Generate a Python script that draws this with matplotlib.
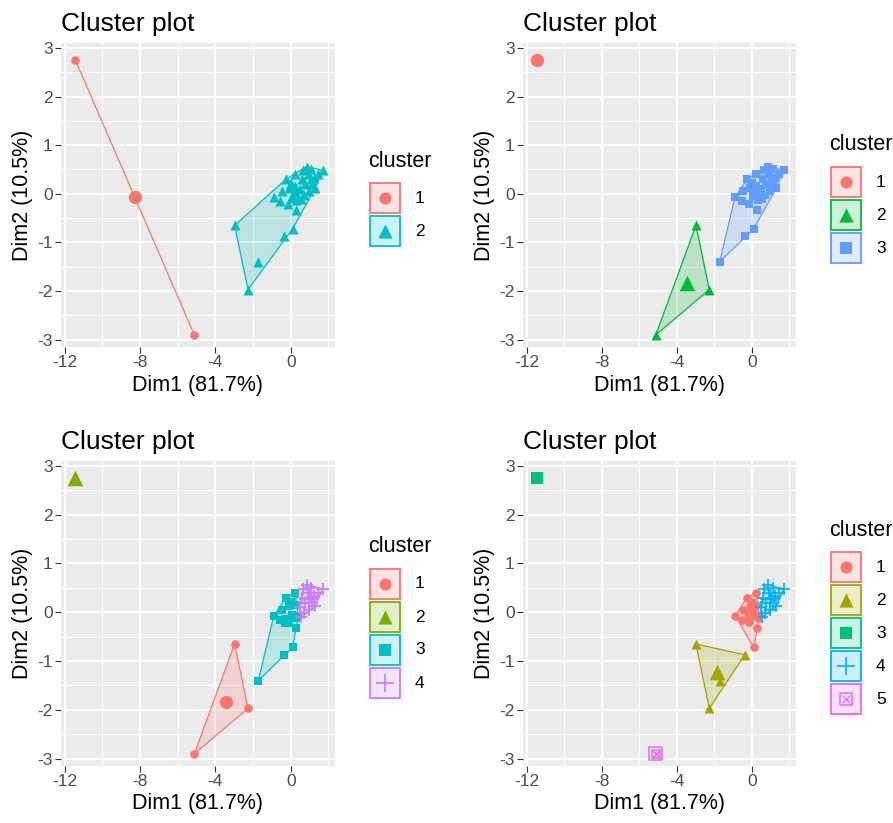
import numpy as np
import matplotlib
matplotlib.use("Agg")
import matplotlib.pyplot as plt
from matplotlib.patches import Polygon, Rectangle

plt.rcParams["font.family"] = ["Liberation Sans", "DejaVu Sans"]
plt.rcParams["axes.unicode_minus"] = False

dim1 = [-11.45, -5.12, -2.98, -2.27, -1.72, -0.38, 0.10, 0.27, -0.15, -0.90,
        -0.45, -0.25, 0.23, 0.05, 0.30, -0.10, 0.20, 0.40, 0.00, -0.55,
        0.85, 1.70, 1.25, 1.30, 0.70, 0.55, 0.60, 0.95, 1.05, 1.45,
        0.75, 1.10, 0.90, 0.50, 1.15, 0.65]
dim2 = [2.76, -2.90, -0.65, -1.97, -1.40, -0.87, -0.72, -0.33, -0.20, -0.07,
        0.05, 0.30, 0.40, -0.05, -0.12, 0.12, 0.15, -0.08, 0.22, -0.15,
        0.56, 0.48, 0.33, 0.12, -0.02, -0.10, 0.30, 0.05, 0.30, 0.40,
        0.20, 0.50, 0.40, 0.10, 0.20, 0.48]

# cluster assignments for k = 2, 3, 4, 5
k2 = [1, 1, 2, 2, 2, 2, 2, 2, 2, 2, 2, 2, 2, 2, 2, 2, 2, 2, 2, 2,
      2, 2, 2, 2, 2, 2, 2, 2, 2, 2, 2, 2, 2, 2, 2, 2]
k3 = [1, 2, 2, 2, 3, 3, 3, 3, 3, 3, 3, 3, 3, 3, 3, 3, 3, 3, 3, 3,
      3, 3, 3, 3, 3, 3, 3, 3, 3, 3, 3, 3, 3, 3, 3, 3]
k4 = [2, 1, 1, 1, 3, 3, 3, 3, 3, 3, 3, 3, 3, 3, 3, 3, 3, 3, 3, 3,
      4, 4, 4, 4, 4, 4, 4, 4, 4, 4, 4, 4, 4, 4, 4, 4]
k5 = [3, 5, 2, 2, 2, 2, 1, 1, 1, 1, 1, 1, 1, 1, 1, 1, 1, 1, 1, 1,
      4, 4, 4, 4, 4, 4, 4, 4, 4, 4, 4, 4, 4, 4, 4, 4]

palettes = {
    2: ["#F8766D", "#00BFC4"],
    3: ["#F8766D", "#00BA38", "#619CFF"],
    4: ["#F8766D", "#7CAE00", "#00BFC4", "#C77CFF"],
    5: ["#F8766D", "#A3A500", "#00BF7D", "#00B0F6", "#E76BF3"],
}
shapes = ["o", "^", "s", "+", "boxx"]

W, H = 893, 823


def convex_hull(pts):
    pts = sorted(set(pts))
    if len(pts) < 3:
        return pts

    def cross(o, a, b):
        return (a[0] - o[0]) * (b[1] - o[1]) - (a[1] - o[1]) * (b[0] - o[0])

    lower, upper = [], []
    for p in pts:
        while len(lower) >= 2 and cross(lower[-2], lower[-1], p) <= 0:
            lower.pop()
        lower.append(p)
    for p in reversed(pts):
        while len(upper) >= 2 and cross(upper[-2], upper[-1], p) <= 0:
            upper.pop()
        upper.append(p)
    return lower[:-1] + upper[:-1]


def draw_marker(ax, x, y, shape, color, f=1.0, zorder=4):
    if shape == "o":
        ax.scatter(x, y, s=38 * f, marker="o", color=color, lw=0, zorder=zorder)
    elif shape == "^":
        ax.scatter(x, y, s=52 * f, marker="^", color=color, lw=0, zorder=zorder)
    elif shape == "s":
        ax.scatter(x, y, s=34 * f, marker="s", color=color, lw=0, zorder=zorder)
    elif shape == "+":
        ax.scatter(x, y, s=85 * f, marker="+", color=color, lw=1.2, zorder=zorder)
    else:
        ax.scatter(x, y, s=36 * f, marker="s", facecolor="none", edgecolor=color,
                   lw=1.1, zorder=zorder)
        ax.scatter(x, y, s=16 * f, marker="x", color=color, lw=1.0, zorder=zorder)


def px_axes(fig, left, top, right, bottom):
    return fig.add_axes([left / W, 1 - bottom / H, (right - left) / W, (bottom - top) / H])


def cluster_panel(fig, box, labels, k):
    ax = px_axes(fig, *box)
    cols = palettes[k]
    x = np.array(dim1)
    y = np.array(dim2)
    lab = np.array(labels)
    ax.set_facecolor("#EBEBEB")
    for s in ax.spines.values():
        s.set_visible(False)
    ax.set_xlim(-12.2, 2.35)
    ax.set_ylim(-3.15, 3.1)
    ax.set_xticks([-12, -8, -4, 0])
    ax.set_xticks([-10, -6, -2, 2], minor=True)
    ax.set_yticks([-3, -2, -1, 0, 1, 2, 3])
    ax.set_yticks([-2.5, -1.5, -0.5, 0.5, 1.5, 2.5], minor=True)
    ax.grid(which="major", color="white", lw=1.5, zorder=0)
    ax.grid(which="minor", color="white", lw=0.7, zorder=0)
    ax.set_axisbelow(True)
    ax.tick_params(which="major", length=4, width=0.8, color="#333333",
                   labelsize=12.5, labelcolor="#4D4D4D", pad=2)
    ax.tick_params(which="minor", length=0)
    ax.set_xlabel("Dim1 (81.7%)", fontsize=15.5, labelpad=3)
    ax.set_ylabel("Dim2 (10.5%)", fontsize=15.5, labelpad=3)
    ax.set_title("Cluster plot", loc="left", fontsize=19, pad=9)

    for c in range(1, k + 1):
        m = lab == c
        col = cols[c - 1]
        pts = list(zip(x[m], y[m]))
        hv = convex_hull(pts)
        if len(hv) >= 3:
            ax.add_patch(Polygon(hv, closed=True, facecolor=col, alpha=0.2,
                                 edgecolor="none", zorder=2))
            ax.add_patch(Polygon(hv, closed=True, facecolor="none",
                                 edgecolor=col, lw=0.9, zorder=3))
        elif len(hv) == 2:
            ax.plot([hv[0][0], hv[1][0]], [hv[0][1], hv[1][1]], color=col, lw=0.9, zorder=3)
        draw_marker(ax, x[m], y[m], shapes[c - 1], col)
        draw_marker(ax, x[m].mean(), y[m].mean(), shapes[c - 1], col, f=2.4, zorder=5)
    return ax


def draw_legend(ov, left, center_y, k):
    cols = palettes[k]
    key = 33
    top = center_y - k * key / 2 + 20
    ov.text(left - 1, top - 21, "cluster", fontsize=15.5, va="center", ha="left")
    for i in range(k):
        y0 = top + i * key
        col = cols[i]
        ov.add_patch(Rectangle((left + 1, y0 + 1), key - 3, key - 3, facecolor=col,
                               alpha=0.2, edgecolor="none"))
        ov.add_patch(Rectangle((left + 1, y0 + 1), key - 3, key - 3, facecolor="none",
                               edgecolor=col, lw=1.3))
        draw_marker(ov, left + key / 2 - 0.5, y0 + key / 2 - 0.5, shapes[i], col, f=2.0)
        ov.text(left + 46, y0 + key / 2, str(i + 1), fontsize=12.5, va="center", ha="left")


fig = plt.figure(figsize=(W / 100, H / 100), dpi=100)

boxes = [(61, 43, 335, 347), (523, 43, 796, 347), (61, 461, 335, 766), (523, 461, 796, 766)]
ks = [(k2, 2), (k3, 3), (k4, 4), (k5, 5)]
for box, (labels, k) in zip(boxes, ks):
    cluster_panel(fig, box, labels, k)

ov = fig.add_axes([0, 0, 1, 1])
ov.set_xlim(0, W)
ov.set_ylim(H, 0)
ov.axis("off")
for box, (labels, k) in zip(boxes, ks):
    draw_legend(ov, box[2] + 34, (box[1] + box[3]) / 2, k)

fig.savefig("out.png", dpi=100)
